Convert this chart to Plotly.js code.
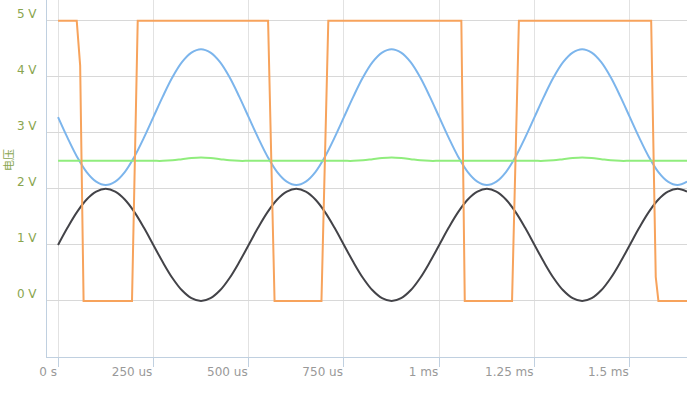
<!DOCTYPE html>
<html>
<head>
<meta charset="utf-8">
<script src="https://cdn.plot.ly/plotly-3.0.1.min.js"></script>
<style>html,body{margin:0;padding:0;background:#fff;overflow:hidden}#chart{width:687px;height:394px}</style>
</head>
<body>
<div id="chart"></div>
<script>
// time in microseconds, 25 us steps
const timeUs = [];
for (let i = 0; i <= 66; i++) timeUs.push(i * 25);

const blackV = [
1.00,1.31,1.59,1.81,1.95,2.00,1.95,1.81,1.59,1.31,1.00,0.69,0.41,0.19,0.05,0.00,0.05,0.19,0.41,0.69,
1.00,1.31,1.59,1.81,1.95,2.00,1.95,1.81,1.59,1.31,1.00,0.69,0.41,0.19,0.05,0.00,0.05,0.19,0.41,0.69,
1.00,1.31,1.59,1.81,1.95,2.00,1.95,1.81,1.59,1.31,1.00,0.69,0.41,0.19,0.05,0.00,0.05,0.19,0.41,0.69,
1.00,1.31,1.59,1.81,1.95,2.00,1.95];

const blueV = [
3.28,2.91,2.57,2.30,2.13,2.07,2.13,2.30,2.57,2.91,3.28,3.65,3.99,4.26,4.43,4.49,4.43,4.26,3.99,3.65,
3.28,2.91,2.57,2.30,2.13,2.07,2.13,2.30,2.57,2.91,3.28,3.65,3.99,4.26,4.43,4.49,4.43,4.26,3.99,3.65,
3.28,2.91,2.57,2.30,2.13,2.07,2.13,2.30,2.57,2.91,3.28,3.65,3.99,4.26,4.43,4.49,4.43,4.26,3.99,3.65,
3.28,2.91,2.57,2.30,2.13,2.07,2.13];

const greenV = [
2.50,2.50,2.50,2.50,2.50,2.50,2.50,2.50,2.50,2.50,2.50,2.50,2.51,2.53,2.55,2.56,2.55,2.53,2.51,2.50,
2.50,2.50,2.50,2.50,2.50,2.50,2.50,2.50,2.50,2.50,2.50,2.50,2.51,2.53,2.55,2.56,2.55,2.53,2.51,2.50,
2.50,2.50,2.50,2.50,2.50,2.50,2.50,2.50,2.50,2.50,2.50,2.50,2.51,2.53,2.55,2.56,2.55,2.53,2.51,2.50,
2.50,2.50,2.50,2.50,2.50,2.50,2.50];

const orangeT = [0, 49, 58, 67, 194, 209, 551, 568, 691, 709, 1058, 1067, 1191, 1209, 1556, 1568, 1575, 1650];
const orangeV = [5, 5, 4.2, 0, 0, 5, 5, 0, 0, 5, 5, 0, 0, 5, 5, 0.43, 0, 0];

const xTickVals = [0, 250, 500, 750, 1000, 1250, 1500];
const xTickText = ['0 s', '250 us', '500 us', '750 us', '1 ms', '1.25 ms', '1.5 ms'];
const yTickVals = [0, 1, 2, 3, 4, 5];
const yTickText = ['0 V', '1 V', '2 V', '3 V', '4 V', '5 V'];
const yTitle = '电压';

const traces = [
  {x: timeUs, y: blueV, mode: 'lines', line: {color: '#7cb5ec', width: 2, shape: 'spline'}, hoverinfo: 'skip'},
  {x: timeUs, y: blackV, mode: 'lines', line: {color: '#434348', width: 2, shape: 'spline'}, hoverinfo: 'skip'},
  {x: timeUs, y: greenV, mode: 'lines', line: {color: '#90ed7d', width: 2, shape: 'spline'}, hoverinfo: 'skip'},
  {x: orangeT, y: orangeV, mode: 'lines', line: {color: '#f7a35c', width: 2}, hoverinfo: 'skip'}
];

const layout = {
  width: 687, height: 394,
  margin: {l: 47, r: 0, t: 0, b: 37, pad: 0},
  paper_bgcolor: '#fff', plot_bgcolor: '#fff',
  showlegend: false,
  font: {family: 'DejaVu Sans', size: 12},
  xaxis: {
    range: [-29, 1650],
    tickvals: xTickVals, ticktext: xTickText,
    ticklabelposition: 'outside left',
    ticklabelstandoff: 4,
    ticks: 'outside', ticklen: 9, tickcolor: '#C0D0E0', tickwidth: 1,
    showgrid: true, gridcolor: '#E2E2E2', gridwidth: 1,
    zeroline: false,
    showline: true, linecolor: '#C0D0E0', linewidth: 1,
    tickfont: {color: '#999999', size: 12, family: 'DejaVu Sans'}
  },
  yaxis: {
    range: [-1, 5.37],
    tickvals: yTickVals, ticktext: yTickText,
    ticks: '',
    ticklabelshift: -7, ticklabelstandoff: 7,
    showgrid: true, gridcolor: '#D8D8D8', gridwidth: 1,
    zeroline: false,
    showline: true, linecolor: '#C0D0E0', linewidth: 1,
    tickfont: {color: '#89A54E', size: 12, family: 'DejaVu Sans'}
  },
  annotations: [{
    text: yTitle, textangle: -90, showarrow: false,
    xref: 'paper', yref: 'paper', x: -39 / 640, y: (357 - 160) / 357,
    xanchor: 'center', yanchor: 'middle',
    font: {color: '#89A54E', size: 11, family: 'Noto Sans CJK SC'}
  }]
};

Plotly.newPlot('chart', traces, layout, {staticPlot: true, displayModeBar: false});
</script>
</body>
</html>
